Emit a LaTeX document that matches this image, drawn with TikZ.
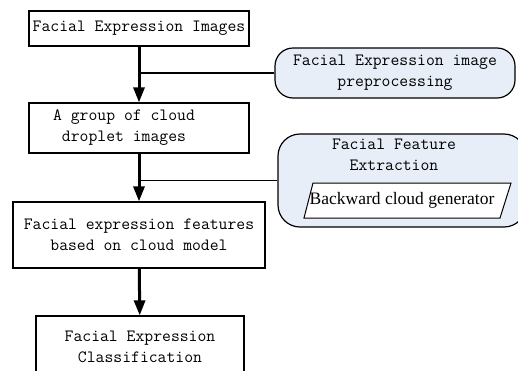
\documentclass[tikz,border=0pt]{standalone}
\usepackage{fontspec}
\setmainfont{Liberation Serif}
\usepackage{tikz}
\usetikzlibrary{positioning}
\usetikzlibrary{arrows.meta}
\definecolor{boxblue}{RGB}{232,238,247}
\tikzset{stepbox/.style={draw, line width=1.2pt, align=center, inner sep=0pt,
    font=\fontsize{17.2}{21}\ttfamily}}
\tikzset{roundbox/.style={stepbox, fill=boxblue, rounded corners=18pt}}
\tikzset{flow/.style={line width=3pt, -{Triangle[length=15pt,width=11pt]}}}
\tikzset{branch/.style={line width=1.2pt}}

\begin{document}
\begin{tikzpicture}[x=1pt,y=-1pt]
\useasboundingbox (0,0) rectangle (518,370);
\node[stepbox, minimum width=220pt, minimum height=35pt] (images) at (139,28.5) {Facial Expression Images};
\node[stepbox, minimum width=220pt, minimum height=50pt] (droplets) at (139,128) {A group of cloud\hspace*{30pt}\\droplet images\hspace*{30pt}};
\node[stepbox, minimum width=252pt, minimum height=66pt] (features) at (139,235) {Facial expression features\\based on cloud model};
\node[stepbox, minimum width=208pt, minimum height=62pt] (classify) at (140,347) {Facial Expression\\Classification};
% side steps
\node[roundbox, minimum width=240pt, minimum height=50pt] (preproc) at (395,73) {Facial Expression image\\preprocessing};
\node[roundbox, minimum width=248pt, minimum height=93pt, rounded corners=22pt] (extract) at (402,180.5) {};
\node[stepbox, draw=none, below=5pt of extract.north, xshift=-8pt] (extracttitle) {Facial Feature\\Extraction};
\filldraw[fill=white, line width=1pt] (304,218) -- (313,183) -- (511,183) -- (500,218) -- cycle;
\node[font=\fontsize{17.5}{20}\selectfont, inner sep=0pt] (generator) at (402,200.5) {Backward cloud generator};
\draw[flow] (images) -- (droplets);
\draw[flow] (droplets) -- (features);
\draw[flow] (features) -- (classify);
\draw[branch] (preproc.west) -- (preproc.west -| images.south);
\draw[branch] (extract.west) -- (extract.west -| images.south);
\end{tikzpicture}
\end{document}
